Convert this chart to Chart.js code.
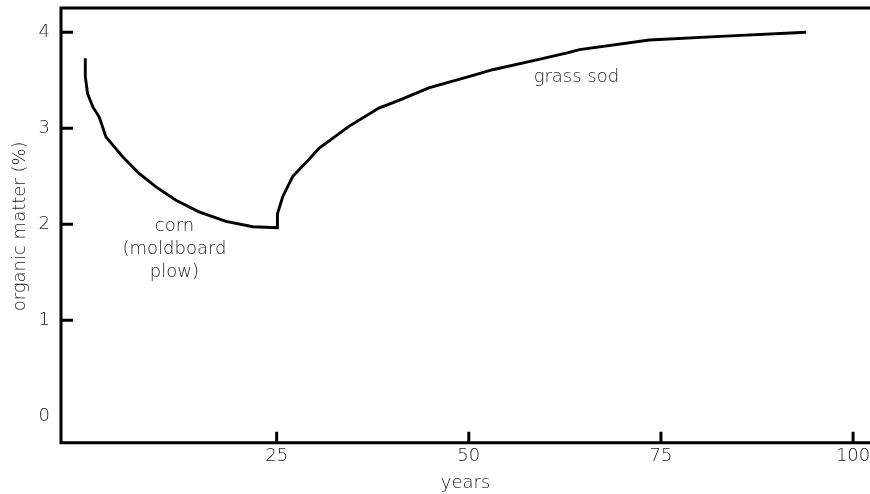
<!DOCTYPE html>
<html><head><meta charset="utf-8">
<style>html,body{margin:0;padding:0;background:#fff}#wrap{width:870px;height:494px}</style>
<script src="https://cdn.jsdelivr.net/npm/chart.js@4"></script>
</head><body><div id="wrap"><canvas id="c" width="870" height="494"></canvas></div>
<script>
const years = [0.1,0.1,0.4,1.1,1.9,2.8,5.0,7.1,9.3,11.9,14.9,18.4,21.9,25.1,25.1,25.8,27.1,28.8,30.5,34.4,38.3,40.9,44.8,50.9,53.1,58.7,62.8,64.4,73.5,83.4,93.9];
const organicMatter = [3.73,3.54,3.36,3.22,3.12,2.91,2.70,2.53,2.39,2.25,2.13,2.03,1.975,1.965,2.11,2.29,2.50,2.64,2.79,3.02,3.21,3.29,3.42,3.56,3.61,3.71,3.785,3.82,3.92,3.96,4.0];
const xTicks = [25,50,75,100];
const yTickLabels = [0,1,2,3,4];
const yTickMarks = [1,2,3,4];
const xTitle = 'years';
const yTitle = 'organic matter (%)';
const notes = [
  {lines:['corn','(moldboard','plow)'], x:11.7, y:1.975},
  {lines:['grass sod'], x:64.0, y:3.53}
];
const FONT = '"DejaVu Sans", "Open Sans", sans-serif';
const TXT = '#1e1e1e';
const FSIZE = 18;

const deco = {
  id:'deco',
  afterDraw(chart){
    const ctx = chart.ctx, a = chart.chartArea, xs = chart.scales.x, ys = chart.scales.y;
    ctx.save();
    ctx.strokeStyle = '#000'; ctx.lineWidth = 3; ctx.lineCap='butt';
    ctx.beginPath();
    ctx.moveTo(870, a.top); ctx.lineTo(a.left, a.top); ctx.lineTo(a.left, a.bottom); ctx.lineTo(870, a.bottom);
    ctx.stroke();
    ctx.beginPath();
    yTickMarks.forEach(v=>{const p=ys.getPixelForValue(v); ctx.moveTo(a.left,p); ctx.lineTo(a.left+12,p);});
    xTicks.forEach(v=>{const p=xs.getPixelForValue(v); ctx.moveTo(p,a.bottom); ctx.lineTo(p,a.bottom-11);});
    ctx.stroke();
    ctx.fillStyle = TXT; ctx.font = '300 '+FSIZE+'px '+FONT; ctx.textAlign='center'; ctx.textBaseline='middle';
    notes.forEach(n=>{
      const px = xs.getPixelForValue(n.x), py = ys.getPixelForValue(n.y);
      n.lines.forEach((t,i)=>ctx.fillText(t, px, py + i*23));
    });
    ctx.fillText(xTitle, (a.left+870)/2, 483);
    ctx.translate(20, (a.top+a.bottom)/2 + 1);
    ctx.rotate(-Math.PI/2);
    ctx.fillText(yTitle, 0, 0);
    ctx.restore();
  }
};

new Chart(document.getElementById('c'), {
  type:'line',
  data:{datasets:[{data: years.map((x,i)=>({x, y: organicMatter[i]})), borderColor:'#000', borderWidth:2.9, pointRadius:0, tension:0, fill:false}]},
  options:{
    responsive:false, animation:false, events:[],
    layout:{padding:{top:8,right:0,left:0,bottom:0}},
    plugins:{legend:{display:false}, tooltip:{enabled:false}},
    scales:{
      x:{type:'linear', min:-3.06, max:102.2,
        afterBuildTicks(s){ s.ticks = xTicks.map(v=>({value:v})); },
        afterFit(s){ s.height = 51.3; s.paddingLeft = 0; s.paddingRight = 0; },
        grid:{display:false, drawTicks:false}, border:{display:false},
        ticks:{color:TXT, font:{family:FONT, size:FSIZE, weight:'300'}, padding:3, maxRotation:0}
      },
      y:{type:'linear', min:-0.275, max:4.253,
        afterBuildTicks(s){ s.ticks = yTickLabels.map(v=>({value:v})); },
        afterFit(s){ s.width = 61; s.paddingTop = 0; s.paddingBottom = 0; },
        grid:{display:false, drawTicks:false}, border:{display:false},
        ticks:{color:TXT, font:{family:FONT, size:FSIZE, weight:'300'}, padding:11}
      }
    }
  },
  plugins:[deco]
});
</script></body></html>
